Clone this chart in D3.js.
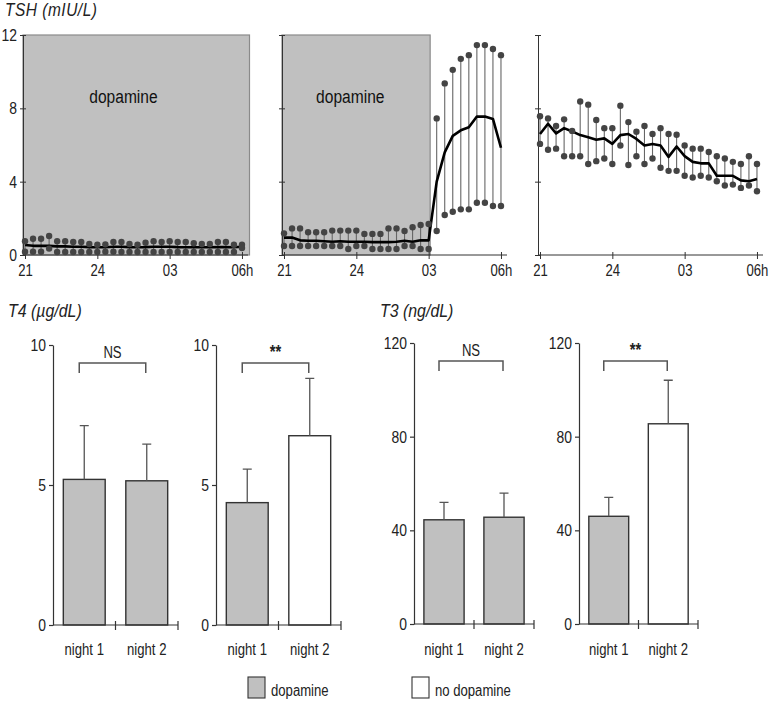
<!DOCTYPE html>
<html>
<head>
<meta charset="utf-8">
<script src="https://cdn.jsdelivr.net/npm/d3@7"></script>
<style>
  body { margin: 0; background: #fff; }
  svg { display: block; font-family: 'Liberation Sans', Arial, sans-serif; }
  /* squeeze Arial-like glyphs into a narrow face */
  text { transform-box: fill-box; transform: scaleX(0.82); transform-origin: left center; }
  text[text-anchor="middle"], g[text-anchor="middle"] text { transform-origin: center; }
  g[text-anchor="end"] text { transform-origin: right center; }
  text.title { transform: scaleX(0.86); }
</style>
</head>
<body>
<svg id="chart" width="771" height="702"></svg>
<script>
// sampling times, minutes after 21:00
var sampleMinutes = [0,20,40,60,80,100,120,140,160,180,200,220,240,260,280,300,320,340,360,380,400,420,440,460,480,500,520,540];
var hourTicks = [0, 180, 360, 540];
var hourLabels = ["21", "24", "03", "06h"];
var tshTicks = [0, 4, 8, 12];

// night 1 : dopamine all night
var tsh1Upper = [0.75,0.89,0.89,1.04,0.75,0.75,0.71,0.71,0.60,0.56,0.58,0.71,0.71,0.60,0.56,0.67,0.75,0.71,0.75,0.71,0.71,0.64,0.60,0.60,0.71,0.71,0.56,0.56];
var tsh1Lower = [0.18,0.18,0.18,0.35,0.16,0.16,0.16,0.16,0.16,0.16,0.18,0.18,0.16,0.16,0.16,0.16,0.16,0.16,0.16,0.16,0.16,0.16,0.16,0.16,0.16,0.16,0.16,0.38];
var tsh1Mean  = [0.55,0.50,0.50,0.50,0.47,0.47,0.45,0.45,0.43,0.42,0.42,0.45,0.45,0.43,0.42,0.43,0.45,0.45,0.45,0.43,0.42,0.42,0.42,0.42,0.43,0.43,0.42,0.45];

// night 2 : dopamine stopped at 03h
var tsh2Upper = [1.18,1.45,1.45,1.24,1.24,1.24,1.33,1.33,1.33,1.33,1.15,1.15,1.15,1.45,1.45,1.31,1.51,1.64,1.69,7.45,9.36,10.1,10.7,10.9,11.45,11.45,11.24,10.9];
var tsh2Lower = [0.49,0.49,0.49,0.49,0.49,0.49,0.49,0.49,0.33,0.49,0.49,0.33,0.33,0.33,0.33,0.49,0.49,0.33,0.33,1.31,2.18,2.36,2.49,2.49,2.85,2.85,2.67,2.67];
var tsh2Mean  = [0.95,0.95,0.80,0.78,0.78,0.75,0.72,0.75,0.72,0.72,0.72,0.70,0.70,0.70,0.72,0.78,0.72,0.80,0.80,4.0,5.6,6.5,6.8,6.97,7.55,7.55,7.42,5.85];

// control night, no dopamine
var tsh3Upper = [7.57,7.45,7.04,7.40,6.77,8.37,8.20,7.36,6.92,6.92,8.14,7.25,6.72,7.04,6.60,6.92,6.60,6.56,5.97,5.80,5.80,5.62,5.39,5.26,5.08,4.96,5.39,4.96];
var tsh3Lower = [6.06,5.74,5.80,5.39,5.39,5.39,4.96,5.12,5.26,4.96,5.97,4.91,5.39,4.96,5.26,4.76,4.59,4.59,4.32,4.23,4.32,4.23,4.02,3.79,3.84,3.66,3.79,3.48];
var tsh3Mean  = [6.60,7.16,6.63,6.92,6.74,6.54,6.42,6.29,6.36,6.06,6.54,6.60,6.33,5.97,6.06,5.97,5.35,5.92,5.39,5.08,5.00,5.00,4.32,4.32,4.32,4.07,4.02,4.14];

var nights = ["night 1", "night 2"];
var t4Ticks = [0, 5, 10];
var t3Ticks = [0, 40, 80, 120];
var t4DopMean = [5.2, 5.15],  t4DopSd = [1.92, 1.31];
var t4StopMean = [4.37, 6.76], t4StopSd = [1.2, 2.05];
var t3DopMean = [44.5, 45.6], t3DopSd = [7.4, 10.3];
var t3StopMean = [46.0, 85.5], t3StopSd = [8.1, 18.6];
var dopFills = [true, true], stopFills = [true, false];

var grey = "#c0c0c0", ink = "#333";
var svg = d3.select("#chart");

// ---------- TSH time courses ----------
var yTsh = d3.scaleLinear().domain([0, 12]).range([255, 35]);

function tshPanel(x0, upper, lower, mean, dopEnd, labelAt, showY) {
  var x = d3.scaleLinear().domain([-5, 555]).range([x0, x0 + 225]);
  var g = svg.append("g");

  if (dopEnd != null) {
    g.append("rect")
      .attr("x", x0).attr("y", yTsh(12))
      .attr("width", x(dopEnd) - x0 + 1.5).attr("height", yTsh(0) - yTsh(12))
      .attr("fill", grey).attr("stroke", "#8a8a8a").attr("stroke-width", 1.2);
    g.append("text")
      .attr("x", x(labelAt)).attr("y", 103)
      .attr("text-anchor", "middle").attr("font-size", 19).attr("fill", "#111")
      .text("dopamine");
  }

  var ya = g.append("g").attr("transform", "translate(" + x0 + ",0)")
    .call(d3.axisLeft(yTsh).tickValues(tshTicks).tickSizeInner(3).tickSizeOuter(0).tickPadding(3)
      .tickFormat(showY ? d3.format("d") : ""));
  ya.selectAll(".tick line").attr("x1", 3);
  ya.selectAll("text").attr("font-size", 17).attr("fill", "#222");

  var xa = g.append("g").attr("transform", "translate(0," + yTsh(0) + ")")
    .call(d3.axisBottom(x).tickValues(hourTicks).tickSizeInner(4).tickSizeOuter(0).tickPadding(6)
      .tickFormat(function(d, i) { return hourLabels[i]; }));
  xa.select(".domain").attr("d", "M" + x0 + ",0H" + (x0 + 225));
  xa.selectAll(".tick line").attr("y1", -3);
  xa.selectAll("text").attr("font-size", 16).attr("fill", "#222");
  g.selectAll(".domain, .tick line").attr("stroke", ink);

  g.selectAll(".range").data(sampleMinutes).enter().append("line")
    .attr("x1", function(d) { return x(d); }).attr("x2", function(d) { return x(d); })
    .attr("y1", function(d, i) { return yTsh(lower[i]); })
    .attr("y2", function(d, i) { return yTsh(upper[i]); })
    .attr("stroke", "#666").attr("stroke-width", 1.1);

  g.append("path")
    .datum(sampleMinutes)
    .attr("fill", "none").attr("stroke", "#000").attr("stroke-width", 2.6)
    .attr("stroke-linejoin", "round")
    .attr("d", d3.line().x(function(d) { return x(d); }).y(function(d, i) { return yTsh(mean[i]); }));

  [upper, lower].forEach(function(vals) {
    g.selectAll(null).data(sampleMinutes).enter().append("circle")
      .attr("cx", function(d) { return x(d); })
      .attr("cy", function(d, i) { return yTsh(vals[i]); })
      .attr("r", 3.2).attr("fill", "#444");
  });
}

tshPanel(23, tsh1Upper, tsh1Lower, tsh1Mean, 555, 245, true);
tshPanel(282, tsh2Upper, tsh2Lower, tsh2Mean, 360, 165, false);
tshPanel(538, tsh3Upper, tsh3Lower, tsh3Mean, null, 0, false);

svg.append("text").attr("class", "title").attr("x", 5).attr("y", 16).attr("font-size", 18)
  .attr("letter-spacing", 0.6)
  .attr("font-style", "italic").attr("fill", "#222").text("TSH (mIU/L)");

// ---------- T4 / T3 bar panels ----------
var yT4 = d3.scaleLinear().domain([0, 10]).range([625, 345]);
var yT3 = d3.scaleLinear().domain([0, 120]).range([624, 343]);

function barPanel(x0, w, y, ticks, means, sds, fills, sig) {
  var g = svg.append("g");
  var xb = d3.scaleBand().domain(nights).range([x0, x0 + w]);
  var bw = xb.bandwidth() * 0.67;
  var cx = function(d) { return xb(d) + xb.bandwidth() / 2; };

  g.selectAll("rect").data(nights).enter().append("rect")
    .attr("x", function(d) { return cx(d) - bw / 2; })
    .attr("y", function(d, i) { return y(means[i]); })
    .attr("width", bw)
    .attr("height", function(d, i) { return y(0) - y(means[i]); })
    .attr("fill", function(d, i) { return fills[i] ? grey : "#fff"; })
    .attr("stroke", ink).attr("stroke-width", 1.4);

  g.selectAll(".err").data(nights).enter().append("path")
    .attr("fill", "none").attr("stroke", "#555").attr("stroke-width", 1.3)
    .attr("d", function(d, i) {
      var c = cx(d), top = y(means[i] + sds[i]);
      return "M" + c + "," + y(means[i]) + "V" + top + "M" + (c - 4.5) + "," + top + "H" + (c + 4.5);
    });

  var ya = g.append("g").attr("transform", "translate(" + x0 + ",0)")
    .call(d3.axisLeft(y).tickValues(ticks).tickSizeInner(4).tickSizeOuter(0).tickPadding(3));
  ya.selectAll("text").attr("font-size", 17).attr("fill", "#222");

  g.append("line").attr("x1", x0).attr("x2", x0 + w).attr("y1", y(0)).attr("y2", y(0));
  g.selectAll(".xt").data(nights).enter().append("line")
    .attr("x1", function(d) { return xb(d) + xb.step(); })
    .attr("x2", function(d) { return xb(d) + xb.step(); })
    .attr("y1", y(0) - 4).attr("y2", y(0) + 5);
  g.selectAll("line, .domain").attr("stroke", ink).attr("stroke-width", 1.2);

  g.selectAll(".xl").data(nights).enter().append("text")
    .attr("x", cx).attr("y", 655).attr("text-anchor", "middle")
    .attr("font-size", 16).attr("fill", "#222").text(function(d) { return d; });

  var b0 = cx(nights[0]) - 5, b1 = cx(nights[1]) - 1, by = y.range()[1] + 18;
  g.append("path").attr("fill", "none").attr("stroke", "#555").attr("stroke-width", 1.5)
    .attr("d", "M" + b0 + "," + (by + 10) + "V" + by + "H" + b1 + "V" + (by + 10));
  g.append("text").attr("x", (b0 + b1) / 2).attr("y", by - 5).attr("text-anchor", "middle")
    .attr("font-size", sig === "NS" ? 16 : 18).attr("font-weight", sig === "NS" ? "normal" : "bold")
    .attr("fill", "#222").text(sig);
}

barPanel(53, 125, yT4, t4Ticks, t4DopMean, t4DopSd, dopFills, "NS");
barPanel(216, 125, yT4, t4Ticks, t4StopMean, t4StopSd, stopFills, "**");
barPanel(414, 120, yT3, t3Ticks, t3DopMean, t3DopSd, dopFills, "NS");
barPanel(579, 119, yT3, t3Ticks, t3StopMean, t3StopSd, stopFills, "**");

svg.append("text").attr("class", "title").attr("x", 8).attr("y", 317).attr("font-size", 18.5)
  .attr("font-style", "italic").attr("fill", "#222").text("T4 (µg/dL)");
svg.append("text").attr("class", "title").attr("x", 380).attr("y", 317).attr("font-size", 18.5)
  .attr("font-style", "italic").attr("fill", "#222").text("T3 (ng/dL)");

// ---------- legend ----------
var legend = [{label: "dopamine", fill: grey, x: 248}, {label: "no dopamine", fill: "#fff", x: 412}];
var lg = svg.selectAll(".lg").data(legend).enter().append("g");
lg.append("rect").attr("x", function(d) { return d.x; }).attr("y", 677)
  .attr("width", 17).attr("height", 21)
  .attr("fill", function(d) { return d.fill; }).attr("stroke", ink).attr("stroke-width", 1.1);
lg.append("text").attr("x", function(d) { return d.x + 23; }).attr("y", 696)
  .attr("font-size", 16).attr("fill", "#222").text(function(d) { return d.label; });
</script>
</body>
</html>
